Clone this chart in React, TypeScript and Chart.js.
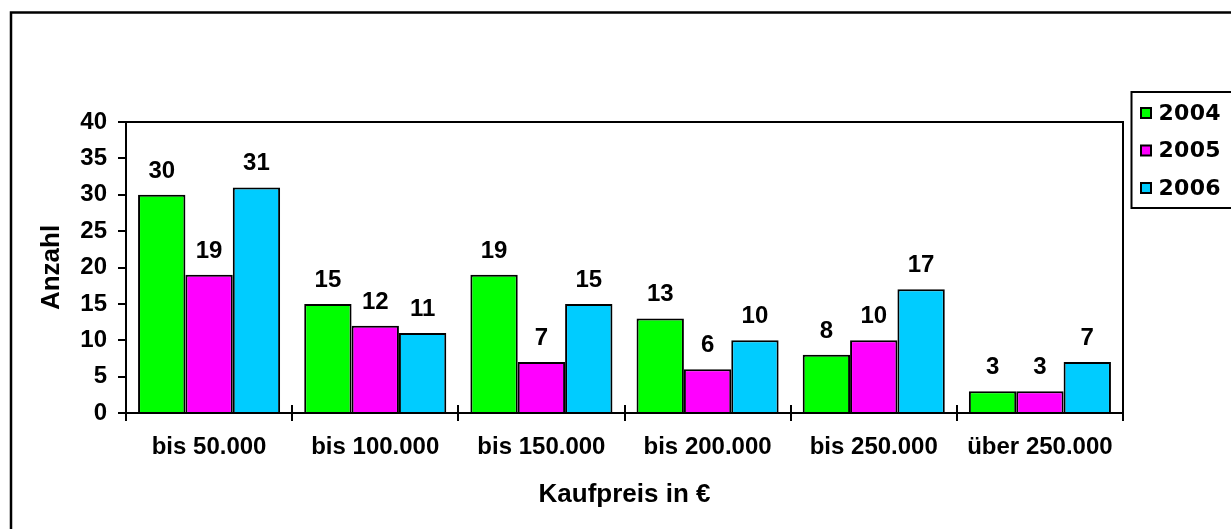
import React, { useEffect, useRef } from 'react';
import { Chart, registerables } from 'chart.js';

Chart.register(...registerables);

const categories = ['bis 50.000', 'bis 100.000', 'bis 150.000', 'bis 200.000', 'bis 250.000', 'über 250.000'];
const seriesLabels = ['2004', '2005', '2006'];
const values2004 = [30, 15, 19, 13, 8, 3];
const values2005 = [19, 12, 7, 6, 10, 3];
const values2006 = [31, 11, 15, 10, 17, 7];
const seriesColors = ['#00FF00', '#FF00FF', '#00CCFF'];
const yMin = 0;
const yMax = 40;
const yStep = 5;
const yTitle = 'Anzahl';
const xTitle = 'Kaufpreis in €';

const FONT = '"Liberation Sans", Arial, sans-serif';
const LEGEND_FONT = '"DejaVu Sans", Verdana, sans-serif';

const framePlugin = {
  id: 'frame',
  beforeDraw(chart: any) {
    const { ctx } = chart;
    ctx.save();
    ctx.fillStyle = '#fff';
    ctx.fillRect(0, 0, chart.width, chart.height);
    ctx.strokeStyle = '#000';
    ctx.lineWidth = 2.5;
    ctx.strokeRect(11, 12.5, chart.width + 20, chart.height + 20);
    ctx.restore();
  },
  afterDraw(chart: any) {
    const { ctx, chartArea } = chart;
    const xs = chart.scales.x;
    ctx.save();
    ctx.strokeStyle = '#000';
    ctx.lineWidth = 2;
    // top and right border of plot area
    ctx.beginPath();
    ctx.moveTo(chartArea.left, chartArea.top);
    ctx.lineTo(chartArea.right, chartArea.top);
    ctx.lineTo(chartArea.right, chartArea.bottom);
    ctx.stroke();
    // inward part of category tick marks
    const n = categories.length;
    const bounds: number[] = [xs.left];
    for (let i = 0; i < n - 1; i++) {
      bounds.push((xs.getPixelForValue(i) + xs.getPixelForValue(i + 1)) / 2);
    }
    bounds.push(xs.right);
    ctx.beginPath();
    bounds.forEach((bx) => {
      const px = Math.round(bx);
      ctx.moveTo(px, chartArea.bottom);
      ctx.lineTo(px, chartArea.bottom - 8);
    });
    ctx.stroke();

    // data labels
    ctx.fillStyle = '#000';
    ctx.font = `bold 24px ${FONT}`;
    ctx.textAlign = 'center';
    ctx.textBaseline = 'alphabetic';
    chart.data.datasets.forEach((ds: any, di: number) => {
      const meta = chart.getDatasetMeta(di);
      meta.data.forEach((el: any, i: number) => {
        ctx.fillText(String(ds.data[i]), el.x, el.y - 17);
      });
    });

    // legend
    const lx = 1131.5;
    const ly = 92;
    const lb = 208;
    ctx.lineWidth = 2;
    ctx.strokeStyle = '#000';
    ctx.strokeRect(lx, ly, chart.width + 20 - lx, lb - ly);
    const rows = [113, 150.5, 188];
    chart.data.datasets.forEach((ds: any, di: number) => {
      const cy = rows[di];
      ctx.fillStyle = ds.backgroundColor;
      ctx.fillRect(1141, cy - 5, 10, 10);
      ctx.lineWidth = 2;
      ctx.strokeStyle = '#000';
      ctx.strokeRect(1141, cy - 5, 10, 10);
      ctx.fillStyle = '#000';
      ctx.font = `bold 22px ${LEGEND_FONT}`;
      ctx.textAlign = 'left';
      ctx.textBaseline = 'middle';
      let tx = 1158.5;
      for (const ch of String(ds.label)) {
        ctx.fillText(ch, tx, cy + 1);
        tx += ctx.measureText(ch).width + 0.3;
      }
    });
    ctx.restore();
  },
};

export default function App() {
  const canvasRef = useRef<HTMLCanvasElement | null>(null);

  useEffect(() => {
    const canvas = canvasRef.current;
    if (!canvas) return;
    const data = [values2004, values2005, values2006];
    const chart = new Chart(canvas, {
      type: 'bar',
      data: {
        labels: categories,
        datasets: seriesLabels.map((label, i) => ({
          label,
          data: data[i],
          backgroundColor: seriesColors[i],
          borderColor: '#000',
          borderWidth: 2,
          categoryPercentage: 0.855,
          barPercentage: 1,
        })),
      },
      options: {
        responsive: false,
        animation: false,
        events: [],
        layout: { padding: { left: 0, top: 122, right: 108, bottom: 0 } },
        plugins: {
          legend: { display: false },
          tooltip: { enabled: false },
          title: { display: false },
        },
        scales: {
          x: {
            afterFit(scale: any) {
              scale.height = 116;
            },
            grid: {
              display: true,
              drawOnChartArea: false,
              drawTicks: true,
              tickLength: 8,
              color: '#000',
              lineWidth: 2,
              offset: true,
            },
            border: { display: true, color: '#000', width: 2 },
            ticks: {
              color: '#000',
              font: { family: FONT, size: 24, weight: 'bold' },
              padding: 12,
              maxRotation: 0,
              autoSkip: false,
            },
            title: {
              display: true,
              text: xTitle,
              color: '#000',
              font: { family: FONT, size: 26, weight: 'bold' },
              padding: { top: 0, bottom: 19 },
            },
          },
          y: {
            min: yMin,
            max: yMax,
            afterFit(scale: any) {
              scale.width = 126;
            },
            grid: {
              display: true,
              drawOnChartArea: false,
              drawTicks: true,
              tickLength: 8,
              color: '#000',
              lineWidth: 2,
            },
            border: { display: true, color: '#000', width: 2 },
            ticks: {
              stepSize: yStep,
              color: '#000',
              font: { family: FONT, size: 24, weight: 'bold' },
              padding: 11,
            },
            title: {
              display: true,
              text: yTitle,
              color: '#000',
              font: { family: FONT, size: 26, weight: 'bold' },
              padding: { top: 36, bottom: 0 },
            },
          },
        },
      },
      plugins: [framePlugin],
    });
    return () => chart.destroy();
  }, []);

  return (
    <div style={{ position: 'fixed', left: 0, top: 0, width: 1231, height: 529, background: '#fff' }}>
      <canvas ref={canvasRef} width={1231} height={529} style={{ display: 'block' }} />
    </div>
  );
}
